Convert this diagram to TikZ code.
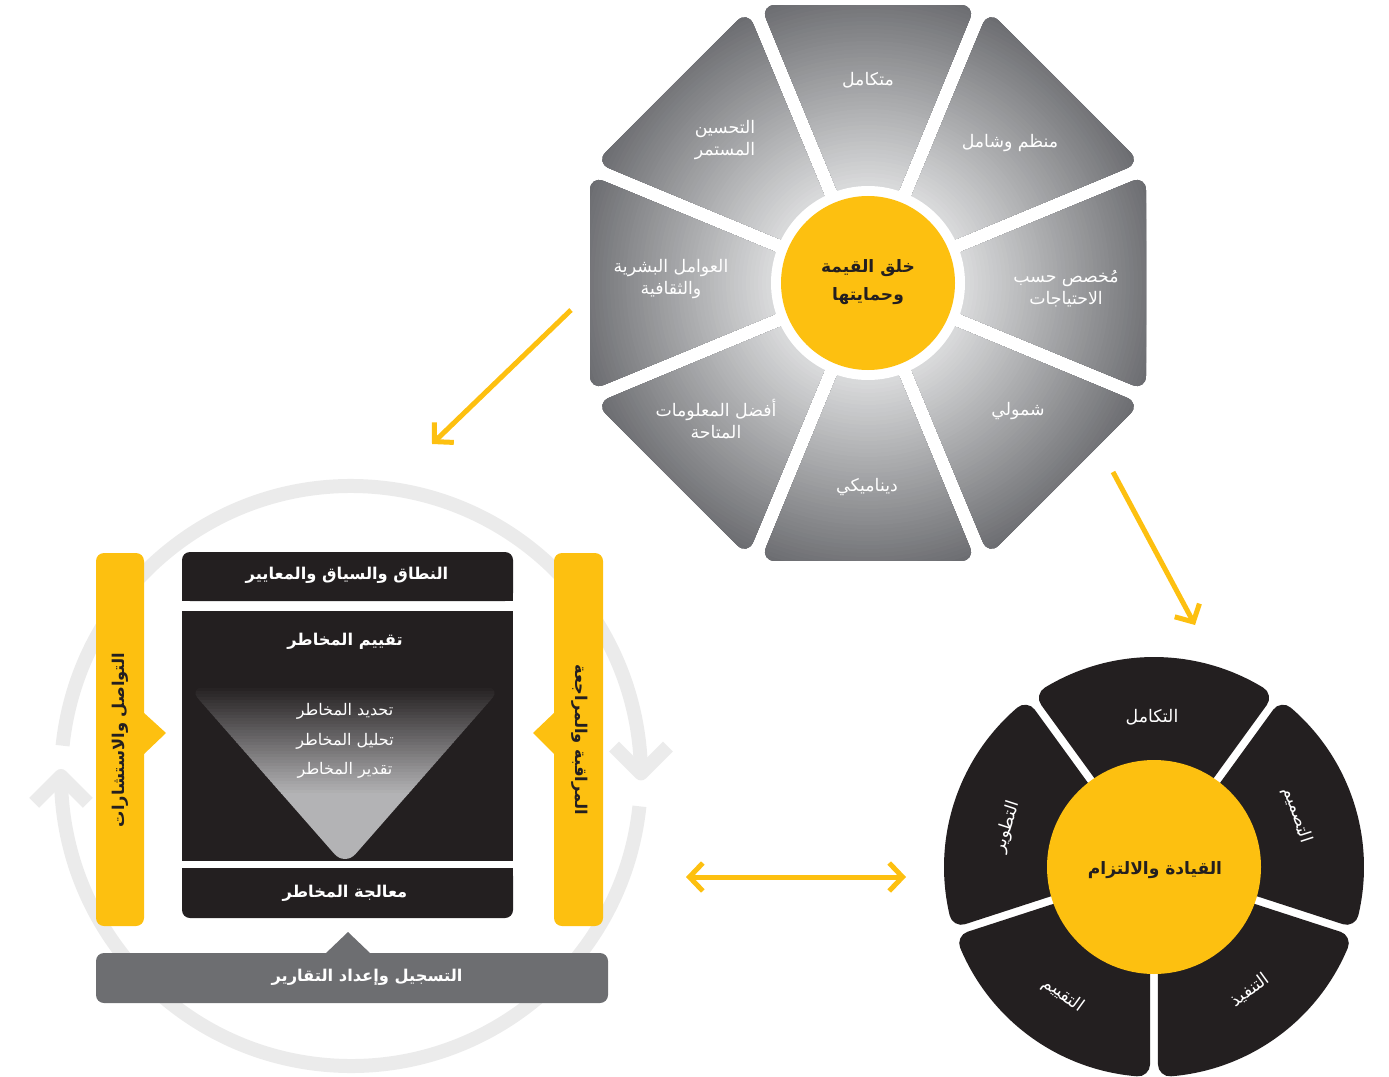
\documentclass[tikz,border=0pt]{standalone}
\usepackage{fontspec}
\newfontfamily\arabicfont[Script=Arabic]{DejaVu Sans}
\TeXXeTstate=1
\usetikzlibrary{arrows.meta}
\definecolor{ylw}{HTML}{FDC010}
\definecolor{dk}{HTML}{231F20}
\definecolor{gbar}{HTML}{6D6E71}
\definecolor{ringc}{HTML}{EBEBEB}
\definecolor{plight}{HTML}{D8D9DA}
\definecolor{pdark}{HTML}{68696D}
\definecolor{tlight}{HTML}{B3B3B5}
\newcommand{\artx}[1]{\beginR #1\endR}
\begin{document}
\begin{tikzpicture}[x=0.75pt,y=-0.75pt,
  plbl/.style={font=\arabicfont\fontsize{13}{16.5}\selectfont, text=white, align=center, inner sep=0pt},
  seglbl/.style={font=\arabicfont\fontsize{13}{15}\selectfont, text=white, inner sep=0pt},
  ctr/.style={font=\arabicfont\bfseries\fontsize{12.8}{21}\selectfont, text=dk, align=center, inner sep=0pt},
  boxlbl/.style={font=\arabicfont\bfseries\fontsize{12.2}{15}\selectfont, text=white, inner sep=0pt},
  sublbl/.style={font=\arabicfont\fontsize{12}{14}\selectfont, text=white, inner sep=0pt},
  barlbl/.style={font=\arabicfont\bfseries\fontsize{12.2}{15}\selectfont, text=dk, inner sep=0pt},
  ringline/.style={draw=ringc, line width=10.5pt},
  yarrow/.style={draw=ylw, line width=3.75pt},
  barb/.tip={Straight Barb[length=10pt,width=21pt]}]
\useasboundingbox (0,0) rectangle (1389,1077);

% ---------------- octagon ----------------
\begin{scope}[shift={(868,283)}, yscale=-1]
  \begin{scope}
    \clip[rounded corners=11pt] \foreach \k in {0,...,7}{ ({90+45*\k}:18.3) -- ({68.84+45*\k}:298.1) -- ({111.16+45*\k}:298.1) -- cycle };
    \foreach \i in {0,...,50}{
      \pgfmathsetmacro\rr{302-4*\i}
      \pgfmathtruncatemacro\pp{min(100,2*\i)}
      \fill[plight!\pp!pdark] (0,0) circle (\rr);
    }
  \end{scope}
  \fill[white] (0,0) circle (97);
  \fill[ylw] (0,0) circle (87);
\end{scope}
\node[ctr] (value) at (868,282) {\artx{خلق القيمة}\\\artx{وحمايتها}};
\node[plbl] (p1) at (868,80) {\artx{متكامل}};
\node[plbl] (p2) at (1010,143) {\artx{منظم وشامل}};
\node[plbl] (p3) at (1066,289) {\artx{مُخصص حسب}\\\artx{الاحتياجات}};
\node[plbl] (p4) at (1018,411) {\artx{شمولي}};
\node[plbl] (p5) at (867,487) {\artx{ديناميكي}};
\node[plbl] (p6) at (716,419) {\artx{أفضل المعلومات}\\\artx{المتاحة}};
\node[plbl] (p7) at (671,279) {\artx{العوامل البشرية}\\\artx{والثقافية}};
\node[plbl] (p8) at (725,140) {\artx{التحسين}\\\artx{المستمر}};

% ---------------- leadership ----------------
\begin{scope}[shift={(1154,867)}, yscale=-1]
  \foreach \b in {90,18,-54,-126,-198}{
    \filldraw[fill=dk, draw=dk, line width=18pt, line join=round]
      ({\b}:27.2) -- ({\b-31.37}:198) arc[start angle={\b-31.37}, end angle={\b+31.37}, radius=198] -- cycle;
  }
  \fill[ylw] (0,0) circle (107);
\end{scope}
\node[ctr] (lead) at (1155,870) {\artx{القيادة والالتزام}};
\node[seglbl] (s1) at (1152,717) {\artx{التكامل}};
\node[seglbl, rotate=-72] (s2) at (1297,815) {\artx{التصميم}};
\node[seglbl, rotate=36] (s3) at (1250,990) {\artx{التنفيذ}};
\node[seglbl, rotate=-36] (s4) at (1063,995) {\artx{التقييم}};
\node[seglbl, rotate=72] (s5) at (1007,827) {\artx{التطوير}};

% ---------------- process panel ----------------
\begin{scope}[shift={(351,776)}, yscale=-1]
  \draw[ringline] (174:290) arc[start angle=174, end angle=0.5, radius=290];
  \draw[ringline, line join=round] (0.5:290) ++(135:38) -- (0.5:290) -- ++(45:38);
  \draw[ringline] (-6:290) arc[start angle=-6, end angle=-180, radius=290];
  \draw[ringline, line join=round] (180:290) ++(225:38) -- (180:290) -- ++(-45:38);
\end{scope}

\fill[ylw, rounded corners=6pt] (96,553) rectangle (144,926);
\fill[ylw] (143,712) -- (166,733) -- (143,755) -- cycle;
\fill[ylw, rounded corners=6pt] (554,553) rectangle (603,926);
\fill[ylw] (555,712) -- (533,733) -- (555,755) -- cycle;

\fill[dk, rounded corners=6pt] (182,552) rectangle (513,601);
\fill[dk] (182,580) rectangle (513,601);
\fill[dk] (182,611) rectangle (513,861);
\fill[dk, rounded corners=6pt] (182,868) rectangle (513,918);
\fill[dk] (182,868) rectangle (513,890);
\begin{scope}
  \clip[rounded corners=12pt] (188,687) -- (502,687) -- (345,866) -- cycle;
  \foreach \i in {0,...,36}{
    \pgfmathtruncatemacro\pp{round(\i*100/36)}
    \fill[tlight!\pp!dk] (180,{685+3*\i}) rectangle (510,{688.6+3*\i});
  }
  \fill[tlight] (180,796) rectangle (510,870);
\end{scope}

\fill[gbar, rounded corners=6pt] (96,953) rectangle (608,1003);
\fill[gbar] (325,954) -- (348,932) -- (371,954) -- cycle;

\node[boxlbl] (scope) at (347,575) {\artx{النطاق والسياق والمعايير}};
\node[boxlbl] (assess) at (345,641) {\artx{تقييم المخاطر}};
\node[sublbl] (ident) at (345,711) {\artx{تحديد المخاطر}};
\node[sublbl] (analy) at (345,741) {\artx{تحليل المخاطر}};
\node[sublbl] (evalu) at (345,770) {\artx{تقدير المخاطر}};
\node[boxlbl] (treat) at (345,893) {\artx{معالجة المخاطر}};
\node[boxlbl] (record) at (367,977) {\artx{التسجيل وإعداد التقارير}};
\node[barlbl, rotate=90] (comm) at (120,740) {\artx{التواصل والاستشارات}};
\node[barlbl, rotate=-90] (monit) at (580,740) {\artx{المراقبة والمراجعة}};

% ---------------- connectors ----------------
\coordinate (a1s) at (571,310); \coordinate (a1e) at (432,444);
\coordinate (a2s) at (1113,472); \coordinate (a2e) at (1195,625);
\coordinate (a3s) at (686,877); \coordinate (a3e) at (906,877);
\draw[yarrow, -barb] (a1s) -- (a1e);
\draw[yarrow, -barb] (a2s) -- (a2e);
\draw[yarrow, barb-barb] (a3s) -- (a3e);
\end{tikzpicture}
\end{document}
